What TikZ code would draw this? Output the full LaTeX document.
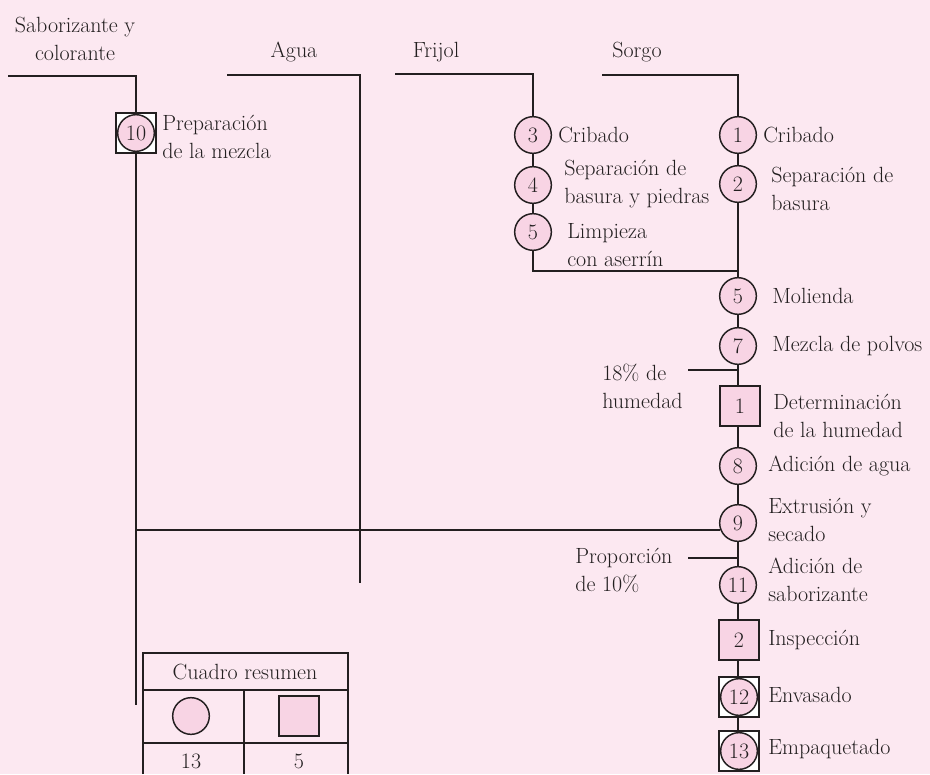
\documentclass[tikz,border=0pt]{standalone}
\usepackage{tikz}
\usetikzlibrary{positioning}

\definecolor{fondo}{HTML}{FCE8F1}
\definecolor{rosa}{HTML}{F8D4E4}
\definecolor{linea}{HTML}{231F20}

\tikzset{
  oper/.style={circle, draw=linea, fill=rosa, line width=1.1pt, minimum size=27.5pt, inner sep=0pt},
  insp/.style={rectangle, draw=linea, fill=rosa, line width=1.1pt, minimum size=30pt, inner sep=0pt},
  combi/.style={rectangle, draw=linea, fill=white, line width=1.1pt, minimum size=30pt, inner sep=0pt},
  etiqueta/.style={anchor=west, align=left, inner sep=0pt},
  flujo/.style={line width=1.1pt, draw=linea},
}

\begin{document}
\begin{tikzpicture}[x=0.75pt, y=-0.75pt,
    every node/.style={font=\fontsize{16.5}{21}\selectfont, text=linea}]
  % fondo
  \fill[fondo] (0,0) rectangle (930,774);
  \useasboundingbox (0,0) rectangle (930,774);

  % --- entradas ---
  \node[align=center] (tsab) at (75,39) {Saborizante y\\colorante};
  \node (tagua) at (294,52) {Agua};
  \node (tfri) at (436,52) {Frijol};
  \node (tsor) at (637,52) {Sorgo};

  % --- saborizante y colorante ---
  \node[combi] (c10) at (136,133) {};
  \node[oper] (p10) at (136,133) {10};
  \node[etiqueta] (e10) at (162,137) {Preparación\\de la mezcla};
  \coordinate (sab0) at (8,76);
  \coordinate (sab1) at (136,76);
  \coordinate (sabfin) at (136,705);
  \coordinate (union) at (136,530);
  \draw[flujo] (sab0) -- (sab1) -- (c10);
  \draw[flujo] (c10) -- (sabfin);

  % --- agua ---
  \coordinate (agua0) at (227,75);
  \coordinate (agua1) at (360,75);
  \coordinate (aguafin) at (360,583);
  \draw[flujo] (agua0) -- (agua1) -- (aguafin);

  % --- frijol ---
  \node[oper] (f3) at (533,135) {3};
  \node[oper] (f4) at (533,185) {4};
  \node[oper] (f5) at (533,232) {5};
  \node[etiqueta] (ef3) at (558,135) {Cribado};
  \node[etiqueta] (ef4) at (564,184) {Separación de\\basura y piedras};
  \node[etiqueta] (ef5) at (567,245) {Limpieza\\con aserrín};
  \coordinate (fri0) at (395,74);
  \coordinate (fri1) at (533,74);
  \coordinate (codo) at (533,271);
  \draw[flujo] (fri0) -- (fri1) -- (f3);
  \draw[flujo] (f3) -- (f4);
  \draw[flujo] (f4) -- (f5);

  % --- sorgo y linea principal ---
  \node[oper] (s1) at (738,135) {1};
  \node[oper] (s2) at (738,184) {2};
  \node[oper] (s5) at (738,296) {5};
  \node[oper] (s7) at (738,346) {7};
  \node[insp] (i1) at (740,406) {1};
  \node[oper] (s8) at (738,466) {8};
  \node[oper] (s9) at (738,523) {9};
  \node[oper] (s11) at (738,585) {11};
  \node[insp] (i2) at (739,640) {2};
  \node[combi] (c12) at (739,697) {};
  \node[oper] (s12) at (739,697) {12};
  \node[combi] (c13) at (739,751) {};
  \node[oper] (s13) at (739,751) {13};

  \node[etiqueta] (es1) at (763,135) {Cribado};
  \node[etiqueta] (es2) at (771,189) {Separación de\\basura};
  \node[etiqueta] (es5) at (772,296) {Molienda};
  \node[etiqueta] (es7) at (772,346) {Mezcla de polvos};
  \node[etiqueta] (ei1) at (773,416) {Determinación\\de la humedad};
  \node[etiqueta] (es8) at (768,466) {Adición de agua};
  \node[etiqueta] (es9) at (768,520) {Extrusión y\\secado};
  \node[etiqueta] (es11) at (768,580) {Adición de\\saborizante};
  \node[etiqueta] (ei2) at (768,640) {Inspección};
  \node[etiqueta] (es12) at (768,695) {Envasado};
  \node[etiqueta] (es13) at (768,749) {Empaquetado};

  \coordinate (sor0) at (602,75);
  \coordinate (sor1) at (738,75);
  \draw[flujo] (sor0) -- (sor1) -- (s1);
  \draw[flujo] (s1) -- (s2) -- (s5) -- (s7) -- (s7 |- i1.north);
  \draw[flujo] (s8 |- i1.south) -- (s8) -- (s9) -- (s11) -- (s11 |- i2.north);
  \draw[flujo] (s11 |- i2.south) -- (s11 |- c12.north);
  \draw[flujo] (s11 |- c12.south) -- (s11 |- c13.north);
  % union del frijol
  \draw[flujo] (f5) -- (codo) -- (codo -| s2);
  % union del saborizante
  \draw[flujo] (union) -- (union -| s9.202);

  % --- adiciones ---
  \coordinate (hum) at (688,370);
  \coordinate (prop) at (688,558);
  \draw[flujo] (hum) -- (hum -| s7);
  \draw[flujo] (prop) -- (prop -| s9);
  \node[etiqueta] (ehum) at (602,386) {18\% de\\humedad};
  \node[etiqueta] (eprop) at (575,570) {Proporción\\de 10\%};

  % --- cuadro resumen ---
  \draw[flujo] (143,774) -- (143,653) -- (348,653) -- (348,774);
  \draw[flujo] (143,690) -- (348,690);
  \draw[flujo] (143,743) -- (348,743);
  \draw[flujo] (244,690) -- (244,774);
  \node (tcuadro) at (245,672) {Cuadro resumen};
  \node[oper] (rc) at (191,716) {};
  \node[insp] (rs) at (299,716) {};
  \node (n13) at (191,761) {13};
  \node (n5) at (299,761) {5};
\end{tikzpicture}
\end{document}
